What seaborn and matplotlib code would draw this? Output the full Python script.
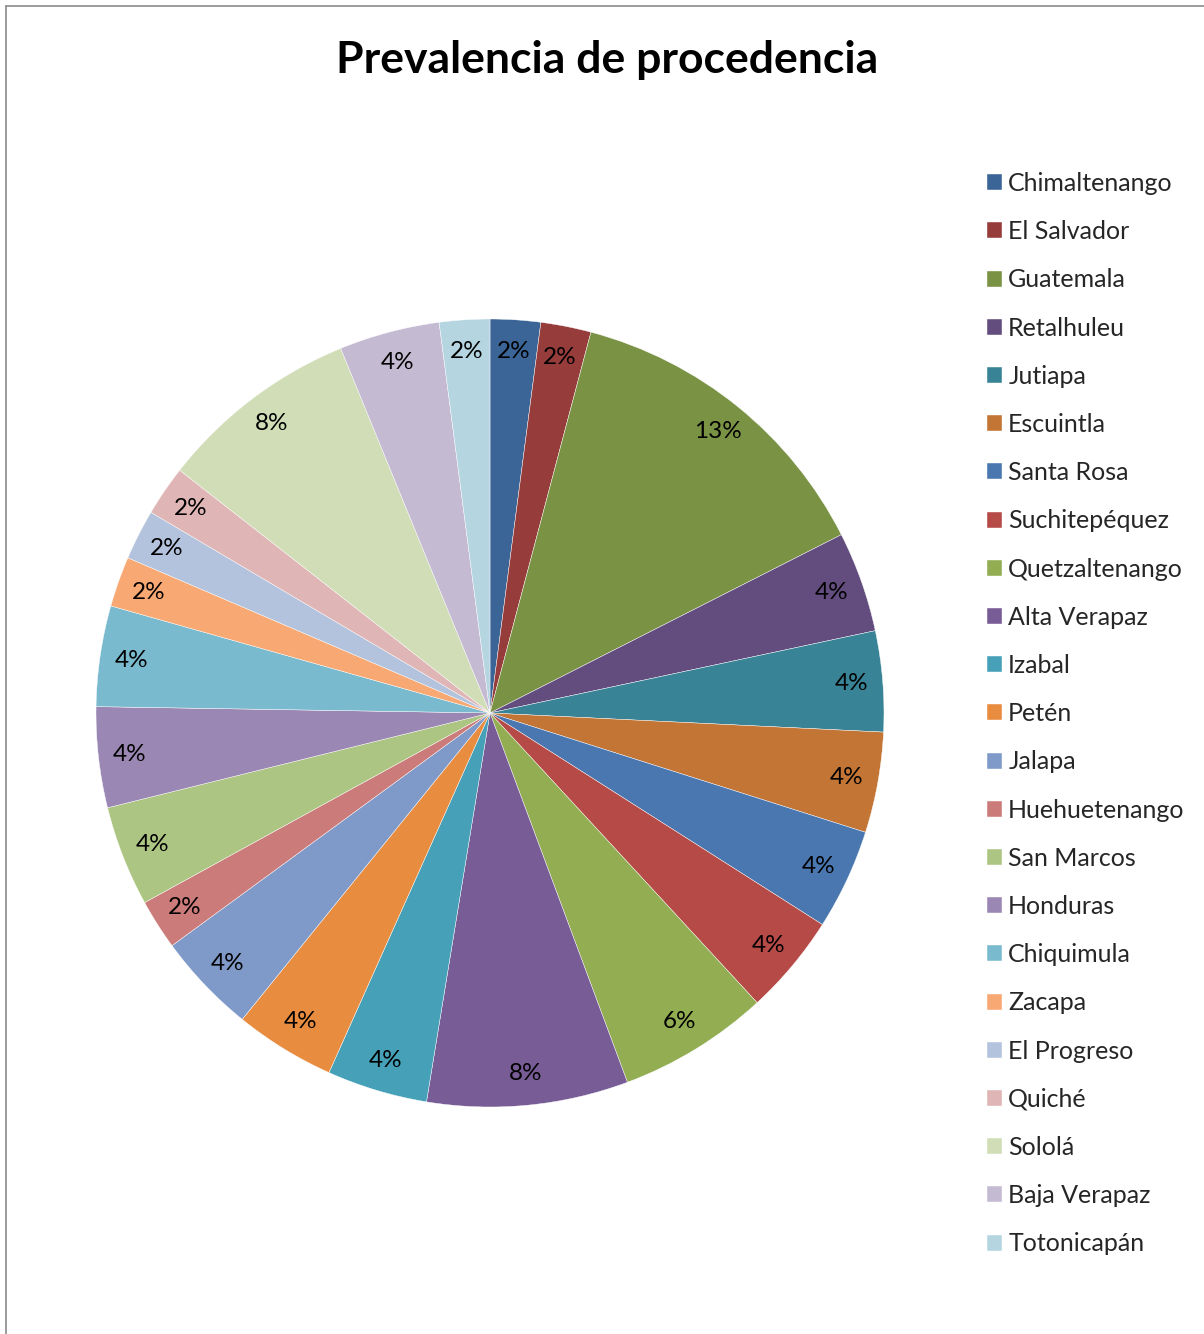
import math
import matplotlib
matplotlib.use("Agg")
import matplotlib.pyplot as plt
import seaborn as sns
from matplotlib.lines import Line2D

categories = ["Chimaltenango", "El Salvador", "Guatemala", "Retalhuleu", "Jutiapa",
              "Escuintla", "Santa Rosa", "Suchitepéquez", "Quetzaltenango", "Alta Verapaz",
              "Izabal", "Petén", "Jalapa", "Huehuetenango", "San Marcos", "Honduras",
              "Chiquimula", "Zacapa", "El Progreso", "Quiché", "Sololá", "Baja Verapaz",
              "Totonicapán"]
counts = [1, 1, 6.5, 2, 2, 2, 2, 2, 3, 4, 2, 2, 2, 1, 2, 2, 2, 1, 1, 1, 4, 2, 1]
colors = ["#3B6497", "#963C3B", "#7A9244", "#634D7E", "#388496", "#C27535",
          "#4A77B0", "#B54A47", "#92AD52", "#785C96", "#46A1B8", "#E88C40",
          "#7F9AC8", "#CB7B7A", "#ADC582", "#9B87B3", "#7ABACE", "#F8A872",
          "#B4C3DD", "#DFB5B5", "#D0DDB7", "#C4BAD2", "#B5D5E0"]
title = "Prevalencia de procedencia"

sns.set_theme(style="white")
plt.rcParams["font.family"] = ["Lato", "DejaVu Sans"]

W, H = 1204, 1334
fig = plt.figure(figsize=(W / 100, H / 100), dpi=100)
fig.patch.set_facecolor("white")

cx, cy, r = 490, 713, 394
ax = fig.add_axes([(cx - r) / W, (H - cy - r) / H, 2 * r / W, 2 * r / H])

def pct(p):
    return f"{math.floor(p + 0.5)}%"

wedges, texts, autotexts = ax.pie(
    counts, colors=colors, startangle=90, counterclock=False,
    autopct=pct, pctdistance=0.92, radius=1.0,
    wedgeprops=dict(edgecolor="white", linewidth=0.3),
    textprops=dict(fontsize=17.5, color="black"))
ax.set_xlim(-1, 1)
ax.set_ylim(-1, 1)
ax.set_aspect("equal")
ax.axis("off")

leg = fig.legend(wedges, categories, loc="upper left",
                 bbox_to_anchor=(987 / W, 1 - 172 / H), bbox_transform=fig.transFigure,
                 frameon=False, fontsize=18, handlelength=0.6, handleheight=0.6,
                 handletextpad=0.25, labelspacing=1.008, borderpad=0, borderaxespad=0)

fig.text(607 / W, 1 - 73 / H, title, ha="center", va="baseline",
         fontsize=32, fontweight="bold", color="black")

# chart frame (left and top edges visible)
fig.add_artist(Line2D([5.5 / W, 5.5 / W], [0, 1 - 6 / H], transform=fig.transFigure,
                      color="#8a8a8a", linewidth=1.2))
fig.add_artist(Line2D([5.5 / W, 1], [1 - 6 / H, 1 - 6 / H], transform=fig.transFigure,
                      color="#8a8a8a", linewidth=1.2))

fig.savefig("out.png", dpi=100, facecolor="white")
